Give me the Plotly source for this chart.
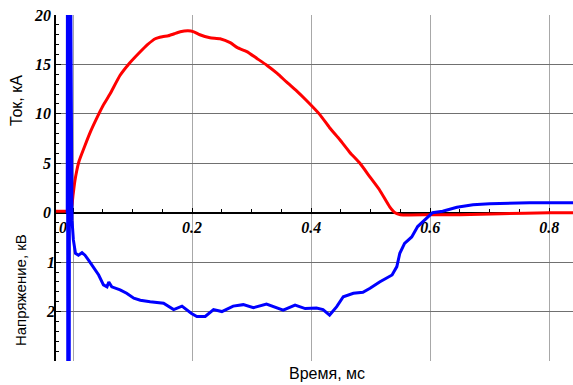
import plotly.graph_objects as go

# Current (kA) vs time (ms)
red_t = [-0.0287, -0.012, -0.006, -0.002, 0.0, 0.003, 0.006, 0.01, 0.02, 0.03, 0.04, 0.05,
         0.062, 0.079, 0.093, 0.11, 0.125, 0.138, 0.15, 0.16, 0.17, 0.18, 0.193, 0.203,
         0.213, 0.23, 0.247, 0.264, 0.276, 0.292, 0.309, 0.326, 0.343, 0.359, 0.376, 0.393,
         0.415, 0.431, 0.448, 0.465, 0.482, 0.499, 0.515, 0.532, 0.541, 0.55, 0.6, 0.65,
         0.72, 0.8, 0.84]
red_i = [0.15, 0.15, 0.2, 0.8, 1.8, 3.2, 4.2, 5.2, 6.8, 8.3, 9.6, 10.8,
         12.0, 13.9, 15.0, 16.1, 17.0, 17.6, 17.8, 17.9, 18.1, 18.3, 18.4, 18.3,
         18.0, 17.7, 17.6, 17.2, 16.7, 16.3, 15.6, 14.9, 14.1, 13.2, 12.3, 11.3,
         9.9, 8.6, 7.4, 6.1, 5.0, 3.6, 2.3, 0.6, 0.0, -0.2, -0.2, -0.2,
         -0.1, 0.0, 0.0]

# Voltage (kV, plotted downward) vs time (ms)
blue_t = [-0.0098, -0.0093, -0.0088, -0.0083, -0.0078, -0.0073, -0.0068, -0.0056,
          -0.0018, 0.0005, 0.004, 0.009, 0.015, 0.020, 0.026, 0.034, 0.043, 0.051,
          0.057, 0.060, 0.065, 0.079, 0.090, 0.102, 0.113, 0.1295, 0.152, 0.169,
          0.183, 0.199, 0.208, 0.222, 0.236, 0.250, 0.269, 0.286, 0.303, 0.325,
          0.353, 0.373, 0.390, 0.409, 0.420, 0.431, 0.443, 0.454, 0.471, 0.487,
          0.499, 0.515, 0.524, 0.536, 0.544, 0.549, 0.557, 0.569, 0.579, 0.594,
          0.604, 0.621, 0.645, 0.672, 0.700, 0.767, 0.84]
blue_v = [0.0, -8, 8, -8, 8, -8, 8, -8,
          0.15, 0.55, 0.82, 0.86, 0.81, 0.86, 0.96, 1.09, 1.26, 1.46,
          1.50, 1.40, 1.50, 1.56, 1.63, 1.73, 1.77, 1.80, 1.83, 1.96,
          1.89, 2.04, 2.10, 2.10, 1.96, 2.0, 1.89, 1.86, 1.92, 1.85,
          1.97, 1.87, 1.94, 1.93, 1.96, 2.07, 1.90, 1.70, 1.63, 1.61,
          1.53, 1.40, 1.34, 1.26, 1.09, 0.82, 0.62, 0.49, 0.28, 0.11,
          0.0, -0.03, -0.11, -0.16, -0.18, -0.2, -0.2]

x_ticks = [0, 0.2, 0.4, 0.6, 0.8]
x_labels = ["0.\u2007\u2007", "0.2", "0.4", "0.6", "0.8"]
i_ticks = [0, 5, 10, 15, 20]
i_labels = ["0", "5", "10", "15", "20"]
v_ticks = [-3, -2, -1, 1, 2, 3]
v_labels = ["", "", "", "1", "2", ""]

tick_font = dict(family="Liberation Serif", size=16, color="black", weight="bold", style="italic")

fig = go.Figure()
fig.add_trace(go.Scatter(x=red_t, y=red_i, mode="lines", yaxis="y",
                         line=dict(color="#ff0000", width=3, shape="spline", smoothing=0.5),
                         hoverinfo="skip"))
fig.add_trace(go.Scatter(x=blue_t, y=blue_v, mode="lines", yaxis="y2",
                         line=dict(color="#0000ff", width=3),
                         hoverinfo="skip"))

fig.update_layout(
    width=573, height=385,
    margin=dict(l=56, r=0, t=15, b=24),
    paper_bgcolor="white", plot_bgcolor="white",
    showlegend=False,
    xaxis=dict(
        range=[-0.0287, 0.84], anchor="free", position=15 / 35,
        tickmode="array", tickvals=x_ticks, ticktext=x_labels, tickfont=tick_font,
        showgrid=True, gridcolor="#a8a8a8", gridwidth=1,
        showline=True, linecolor="black", linewidth=1.5,
        ticks="inside", ticklen=4, tickcolor="black", tickwidth=1.2,
        minor=dict(tickmode="linear", tick0=0, dtick=0.05, ticks="inside",
                   ticklen=3, tickcolor="black", showgrid=False),
        zeroline=False, layer="below traces",
    ),
    yaxis=dict(
        range=[-15, 20], tickmode="array", tickvals=i_ticks, ticktext=i_labels,
        tickfont=tick_font, showgrid=False, zeroline=False,
        showline=True, linecolor="black", linewidth=1.5,
        ticks="inside", ticklen=5, tickcolor="black",
        minor=dict(tickmode="linear", tick0=0, dtick=1, ticks="inside",
                   ticklen=3, tickcolor="black", showgrid=False),
        layer="below traces",
    ),
    yaxis2=dict(
        range=[3, -4], overlaying="y", side="left", anchor="x",
        tickmode="array", tickvals=v_ticks, ticktext=v_labels, tickfont=tick_font,
        showgrid=True, gridcolor="#707070", gridwidth=1, zeroline=False,
        showline=False, ticks="inside", ticklen=5, tickcolor="black",
        layer="below traces",
    ),
    annotations=[
        dict(text="Ток, кА", xref="paper", yref="paper", x=-0.0774, y=0.754,
             textangle=-90, showarrow=False, xanchor="center", yanchor="middle",
             font=dict(family="Liberation Sans", size=16, color="black")),
        dict(text="Напряжение, кВ", xref="paper", yref="paper", x=-0.0696, y=0.205,
             textangle=-90, showarrow=False, xanchor="center", yanchor="middle",
             font=dict(family="Liberation Sans", size=15, color="black")),
        dict(text="Время, мс", xref="paper", yref="paper", x=0.524, y=-0.0347,
             showarrow=False, xanchor="center", yanchor="middle",
             font=dict(family="Liberation Sans", size=16, color="black")),
    ],
)

fig.write_html("out.html")
